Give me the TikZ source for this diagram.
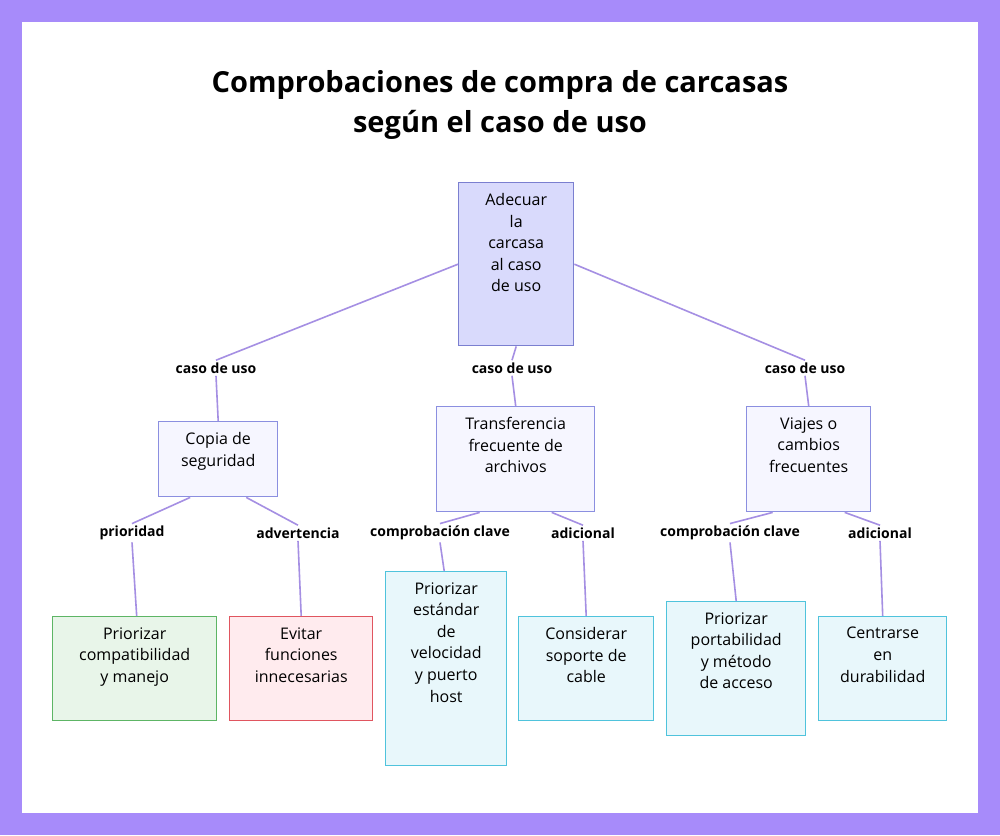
\documentclass[tikz,border=0pt]{standalone}
\usepackage{fontspec}
\setmainfont{Open Sans}
\usetikzlibrary{positioning}
\definecolor{frame}{HTML}{A78BFA}
\definecolor{edge}{HTML}{A58FE3}
\definecolor{rootfill}{HTML}{D9DAFC}
\definecolor{rootline}{HTML}{7B7FD0}
\definecolor{catfill}{HTML}{F6F6FF}
\definecolor{catline}{HTML}{8B8FE0}
\definecolor{grnfill}{HTML}{E8F5E9}
\definecolor{grnline}{HTML}{5DB565}
\definecolor{redfill}{HTML}{FFEBEE}
\definecolor{redline}{HTML}{E0555F}
\definecolor{cyfill}{HTML}{E8F7FB}
\definecolor{cyline}{HTML}{4FC3DC}
\tikzset{
  box/.style={draw, line width=0.7pt, inner sep=0pt, anchor=north west},
  rootbox/.style={box, fill=rootfill, draw=rootline},
  catbox/.style={box, fill=catfill, draw=catline},
  grnbox/.style={box, fill=grnfill, draw=grnline},
  redbox/.style={box, fill=redfill, draw=redline},
  cybox/.style={box, fill=cyfill, draw=cyline},
  lbl/.style={font=\bfseries\fontsize{7}{8}\selectfont, fill=white, inner sep=1pt},
  edge/.style={draw=edge, line width=0.8pt}
}
\newcommand{\bx}[6]{\node[#1, minimum width=#4*0.5pt, minimum height=#5*0.5pt,
  label={[anchor=north, yshift=-5.5pt, align=center, inner sep=0pt,
  font=\fontsize{8}{10.8}\selectfont]north:{#6}}] (#2) at (#3) {};}
\begin{document}
\begin{tikzpicture}[x=0.5pt,y=-0.5pt]
  % frame and panel
  \fill[frame] (0,0) rectangle (1000,835);
  \fill[white] (22,22) rectangle (978,813);
  \node[font=\bfseries\fontsize{14.5}{20}\selectfont, align=center] (title) at (500,105)
    {Comprobaciones de compra de carcasas\\según el caso de uso};
  % boxes
  \bx{rootbox}{root}{458,182}{115}{163}{Adecuar\\la\\carcasa\\al caso\\de uso}
  \bx{catbox}{copia}{158,421}{119}{75}{Copia de\\seguridad}
  \bx{catbox}{trans}{436,406}{158}{105}{Transferencia\\frecuente de\\archivos}
  \bx{catbox}{viajes}{746,406}{124}{105}{Viajes o\\cambios\\frecuentes}
  \bx{grnbox}{compat}{52,616}{164}{104}{Priorizar\\compatibilidad\\y manejo}
  \bx{redbox}{evitar}{229,616}{143}{104}{Evitar\\funciones\\innecesarias}
  \bx{cybox}{estandar}{385,571}{121}{194}{Priorizar\\estándar\\de\\velocidad\\y puerto\\host}
  \bx{cybox}{cable}{518,616}{135}{104}{Considerar\\soporte de\\cable}
  \bx{cybox}{porta}{666,601}{139}{134}{Priorizar\\portabilidad\\y método\\de acceso}
  \bx{cybox}{durab}{818,616}{128}{104}{Centrarse\\en\\durabilidad}
  % labels
  \node[lbl] (l1) at (216,368) {caso de uso};
  \node[lbl] (l2) at (512,368) {caso de uso};
  \node[lbl] (l3) at (805,368) {caso de uso};
  \node[lbl] (l4) at (132,533) {prioridad};
  \node[lbl] (l5) at (298,533) {advertencia};
  \node[lbl] (l6) at (440,533) {comprobación clave};
  \node[lbl] (l7) at (583,533) {adicional};
  \node[lbl] (l8) at (730,533) {comprobación clave};
  \node[lbl] (l9) at (880,533) {adicional};
  % connectors
  \draw[edge] (root.west) -- (l1.north) (l1.south) -- (copia.north);
  \draw[edge] (root.south) -- (l2.north) (l2.south) -- (trans.north);
  \draw[edge] (root.east) -- (l3.north) (l3.south) -- (viajes.north);
  \draw[edge] ([xshift=-14pt]copia.south) -- (l4.north) (l4.south) -- ([xshift=1pt]compat.north);
  \draw[edge] ([xshift=14pt]copia.south) -- (l5.north) (l5.south) -- (evitar.north);
  \draw[edge] ([xshift=-18pt]trans.south) -- (l6.north) (l6.south) -- ([xshift=-1pt]estandar.north);
  \draw[edge] ([xshift=18pt]trans.south) -- (l7.north) (l7.south) -- (cable.north);
  \draw[edge] ([xshift=-18pt]viajes.south) -- (l8.north) (l8.south) -- (porta.north);
  \draw[edge] ([xshift=18pt]viajes.south) -- (l9.north) (l9.south) -- (durab.north);
\end{tikzpicture}
\end{document}
